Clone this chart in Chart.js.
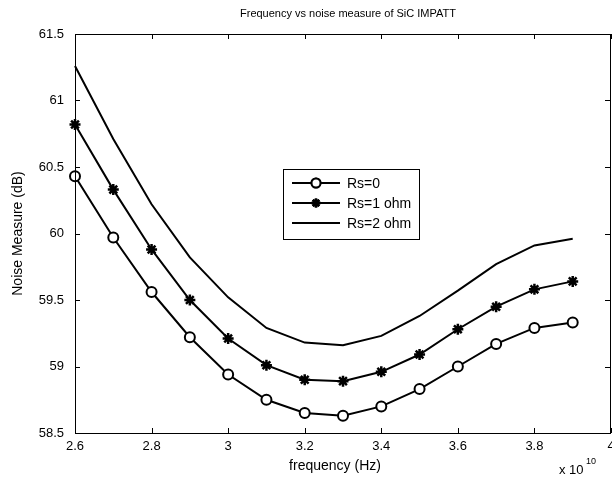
<!DOCTYPE html>
<html>
<head>
<meta charset="utf-8">
<script src="https://cdn.jsdelivr.net/npm/chart.js@4.4.1/dist/chart.umd.min.js"></script>
<style>
  html, body { margin: 0; padding: 0; background: #ffffff; }
  canvas { display: block; }
</style>
</head>
<body>
<canvas id="c" width="612" height="482"></canvas>
<script>
// ---- data (frequency in units of 1e10 Hz) ----
const frequency = [2.6, 2.7, 2.8, 2.9, 3.0, 3.1, 3.2, 3.3, 3.4, 3.5, 3.6, 3.7, 3.8, 3.9];
const rs0 = [60.43, 59.97, 59.56, 59.22, 58.94, 58.75, 58.65, 58.63, 58.70, 58.83, 59.00, 59.17, 59.29, 59.33];
const rs1 = [60.82, 60.33, 59.88, 59.50, 59.21, 59.01, 58.90, 58.89, 58.96, 59.09, 59.28, 59.45, 59.58, 59.64];
const rs2 = [61.26, 60.71, 60.22, 59.82, 59.52, 59.29, 59.18, 59.16, 59.23, 59.38, 59.57, 59.77, 59.91, 59.96];
const seriesNames = ['Rs=0', 'Rs=1 ohm', 'Rs=2 ohm'];
const xTicks = [2.6, 2.8, 3.0, 3.2, 3.4, 3.6, 3.8, 4.0];
const xTickLabels = ['2.6', '2.8', '3', '3.2', '3.4', '3.6', '3.8', '4'];
const yTicks = [58.5, 59, 59.5, 60, 60.5, 61, 61.5];
const yTickLabels = ['58.5', '59', '59.5', '60', '60.5', '61', '61.5'];
const xExponentLabel = '10';
const titleText = 'Frequency vs noise measure of SiC IMPATT';
const xLabel = 'frequency (Hz)';
const yLabel = 'Noise Measure (dB)';

const FONT = '"Liberation Sans", Arial, sans-serif';

function pts(ys) { return frequency.map((f, i) => ({ x: f, y: ys[i] })); }

const datasets = [
  { label: seriesNames[0], data: pts(rs0), borderColor: '#000', borderWidth: 2,
    pointStyle: 'circle', pointRadius: 5, pointBorderWidth: 2,
    pointBackgroundColor: '#fff', pointBorderColor: '#000', clip: false, tension: 0 },
  { label: seriesNames[1], data: pts(rs1), borderColor: '#000', borderWidth: 2,
    pointStyle: 'star', pointRadius: 5.5, pointBorderWidth: 2.5,
    pointBackgroundColor: '#000', pointBorderColor: '#000', clip: false, tension: 0 },
  { label: seriesNames[2], data: pts(rs2), borderColor: '#000', borderWidth: 2,
    pointRadius: 0, clip: false, tension: 0 }
];

const framePlugin = {
  id: 'matlabFrame',
  afterDraw(chart) {
    const ctx = chart.ctx;
    const a = chart.chartArea;
    const xs = chart.scales.x, ys = chart.scales.y;
    ctx.save();
    ctx.strokeStyle = '#000';
    ctx.lineWidth = 1;
    // frame
    ctx.strokeRect(Math.round(a.left) + 0.5, Math.round(a.top) + 0.5,
                   Math.round(a.right - a.left) - 1, Math.round(a.bottom - a.top));
    // inward ticks
    const tl = 5;
    ctx.beginPath();
    xTicks.forEach(v => {
      const px = Math.round(xs.getPixelForValue(v)) + 0.5;
      ctx.moveTo(px, a.bottom); ctx.lineTo(px, a.bottom - tl);
      ctx.moveTo(px, a.top); ctx.lineTo(px, a.top + tl);
    });
    yTicks.forEach(v => {
      const py = Math.round(ys.getPixelForValue(v)) + 0.5;
      ctx.moveTo(a.left, py); ctx.lineTo(a.left + tl, py);
      ctx.moveTo(a.right - 1, py); ctx.lineTo(a.right - 1 - tl, py);
    });
    ctx.stroke();

    ctx.fillStyle = '#000';
    // title
    ctx.font = '11px ' + FONT;
    ctx.textAlign = 'center';
    ctx.textBaseline = 'middle';
    ctx.fillText(titleText, 348, 14);
    // x label
    ctx.font = '14px ' + FONT;
    ctx.fillText(xLabel, 335, 466);
    // exponent
    ctx.textAlign = 'left';
    ctx.font = '13px ' + FONT;
    ctx.fillText('x 10', 559, 470);
    ctx.font = '9px ' + FONT;
    ctx.fillText(xExponentLabel, 586, 462);
    // y label
    ctx.save();
    ctx.translate(18, (a.top + a.bottom) / 2);
    ctx.rotate(-Math.PI / 2);
    ctx.textAlign = 'center';
    ctx.font = '14px ' + FONT;
    ctx.fillText(yLabel, 0, 0);
    ctx.restore();

    // legend box
    const bx = 283, by = 169, bw = 136, bh = 70;
    ctx.fillStyle = '#fff';
    ctx.fillRect(bx, by, bw, bh);
    ctx.lineWidth = 1;
    ctx.strokeStyle = '#000';
    ctx.strokeRect(bx + 0.5, by + 0.5, bw, bh);
    const rows = [183, 203, 223];
    ctx.textAlign = 'left';
    ctx.textBaseline = 'middle';
    rows.forEach((ry, i) => {
      ctx.lineWidth = 2;
      ctx.strokeStyle = '#000';
      ctx.beginPath();
      ctx.moveTo(292, ry); ctx.lineTo(340, ry);
      ctx.stroke();
      const ds = chart.data.datasets[i];
      if (ds.pointRadius > 0) {
        ctx.fillStyle = ds.pointBackgroundColor;
        ctx.strokeStyle = '#000';
        ctx.lineWidth = ds.pointBorderWidth;
        Chart.helpers.drawPoint(ctx, {
          pointStyle: ds.pointStyle, radius: 4.5,
          borderWidth: ds.pointBorderWidth, rotation: 0
        }, 316, ry);
        if (ds.pointStyle === 'circle') { ctx.fill(); }
        ctx.stroke();
      }
      ctx.fillStyle = '#000';
      ctx.font = '14px ' + FONT;
      ctx.fillText(seriesNames[i], 347, ry + 1);
    });
    ctx.restore();
  }
};

new Chart(document.getElementById('c'), {
  type: 'line',
  data: { datasets },
  options: {
    responsive: false,
    devicePixelRatio: 1,
    animation: false,
    layout: { autoPadding: false, padding: { top: 34, right: 1, left: 0, bottom: 0 } },
    plugins: { legend: { display: false }, title: { display: false }, tooltip: { enabled: false } },
    scales: {
      x: {
        type: 'linear', min: 2.6, max: 4.0,
        grid: { display: false, drawTicks: false },
        border: { display: false },
        afterBuildTicks: s => { s.ticks = xTicks.map(v => ({ value: v })); },
        ticks: {
          padding: 6, color: '#000', maxRotation: 0, autoSkip: false,
          font: { family: FONT, size: 13 },
          callback: (v) => { const i = xTicks.findIndex(t => Math.abs(t - v) < 1e-9); return i >= 0 ? xTickLabels[i] : ''; }
        },
        afterFit: s => { s.height = 49; s.paddingLeft = 0; s.paddingRight = 0; }
      },
      y: {
        type: 'linear', min: 58.5, max: 61.5,
        grid: { display: false, drawTicks: false },
        border: { display: false },
        afterBuildTicks: s => { s.ticks = yTicks.map(v => ({ value: v })); },
        ticks: {
          padding: 11, color: '#000', autoSkip: false,
          font: { family: FONT, size: 13 },
          callback: (v) => { const i = yTicks.findIndex(t => Math.abs(t - v) < 1e-9); return i >= 0 ? yTickLabels[i] : ''; }
        },
        afterFit: s => { s.width = 75; s.paddingTop = 0; s.paddingBottom = 0; }
      }
    }
  },
  plugins: [framePlugin]
});
</script>
</body>
</html>
